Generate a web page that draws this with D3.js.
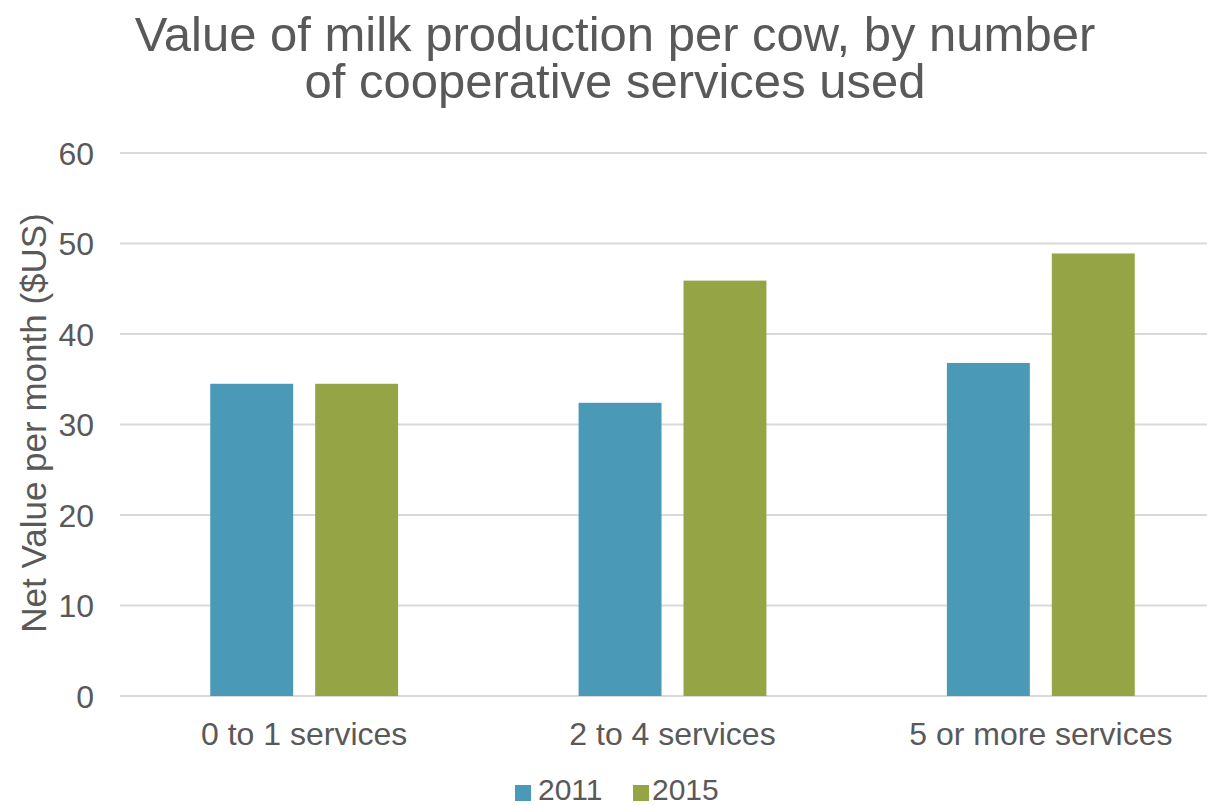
<!DOCTYPE html>
<html>
<head>
<meta charset="utf-8">
<script src="https://cdn.jsdelivr.net/npm/d3@7"></script>
<style>
  html, body { margin: 0; padding: 0; background: #ffffff; }
  svg { display: block; }
  text { font-family: "Liberation Sans", Arial, sans-serif; fill: #595959; }
</style>
</head>
<body>
<svg id="chart" width="1207" height="806"></svg>
<script>
// Chart data
const categories = ["0 to 1 services", "2 to 4 services", "5 or more services"];
const seriesNames = ["2011", "2015"];
const values2011 = [34.5, 32.4, 36.8];
const values2015 = [34.5, 45.9, 48.9];
const yTicks = [0, 10, 20, 30, 40, 50, 60];
const titleLines = ["Value of milk production per cow, by number", "of cooperative services used"];
const yAxisTitle = "Net Value per month ($US)";

const seriesValues = { "2011": values2011, "2015": values2015 };
const colors = { "2011": "#4A9AB7", "2015": "#95A546" };

const svg = d3.select("#chart");

const plot = { left: 120, right: 1225, top: 153, bottom: 696 };

const y = d3.scaleLinear().domain([0, 60]).range([plot.bottom, plot.top]);

const x0 = d3.scaleBand()
  .domain(categories)
  .range([plot.left, plot.right])
  .paddingInner(0.49)
  .paddingOuter(0.245);

const x1 = d3.scaleBand()
  .domain(seriesNames)
  .range([0, x0.bandwidth()])
  .paddingInner(0.2095)
  .paddingOuter(0);

// Title (two centred lines)
svg.append("g")
  .selectAll("text")
  .data(titleLines)
  .join("text")
  .attr("x", 615)
  .attr("y", (d, i) => 51 + i * 47)
  .attr("text-anchor", "middle")
  .style("font-size", "49px")
  .text(d => d);

// Horizontal gridlines
svg.append("g")
  .selectAll("line")
  .data(yTicks)
  .join("line")
  .attr("x1", plot.left)
  .attr("x2", plot.right)
  .attr("y1", d => y(d))
  .attr("y2", d => y(d))
  .attr("stroke", "#D9D9D9")
  .attr("stroke-width", 2);

// Y axis tick labels
const yAxis = d3.axisLeft(y).tickValues(yTicks).tickSize(0).tickPadding(0);
const yAxisG = svg.append("g")
  .attr("transform", `translate(94,0)`)
  .call(yAxis);
yAxisG.select(".domain").remove();
yAxisG.selectAll("text")
  .attr("fill", "#595959")
  .style("font-family", "'Liberation Sans', Arial, sans-serif")
  .style("font-size", "32px")
  .attr("dy", "0.35em");

// Bars
const groups = svg.append("g")
  .selectAll("g")
  .data(categories)
  .join("g")
  .attr("transform", d => `translate(${x0(d)},0)`);

groups.selectAll("rect")
  .data((cat, ci) => seriesNames.map(s => ({ series: s, value: seriesValues[s][ci] })))
  .join("rect")
  .attr("x", d => x1(d.series))
  .attr("width", x1.bandwidth())
  .attr("y", d => y(d.value))
  .attr("height", d => y(0) - y(d.value))
  .attr("fill", d => colors[d.series]);

// Category axis labels
const xAxis = d3.axisBottom(x0).tickSize(0).tickPadding(0);
const xAxisG = svg.append("g")
  .attr("transform", `translate(0,745)`)
  .call(xAxis);
xAxisG.select(".domain").remove();
xAxisG.selectAll("text")
  .attr("fill", "#595959")
  .attr("dy", 0)
  .style("font-family", "'Liberation Sans', Arial, sans-serif")
  .style("font-size", "32px");

// Y axis title
svg.append("text")
  .attr("transform", `translate(46,423) rotate(-90)`)
  .attr("text-anchor", "middle")
  .style("font-size", "35px")
  .text(yAxisTitle);

// Legend
const legendItems = [
  { name: "2011", sx: 515, tx: 538 },
  { name: "2015", sx: 633, tx: 652 }
];
const legend = svg.append("g");
legend.selectAll("rect")
  .data(legendItems)
  .join("rect")
  .attr("x", d => d.sx)
  .attr("y", 785)
  .attr("width", 16)
  .attr("height", 16)
  .attr("fill", d => colors[d.name]);
legend.selectAll("text")
  .data(legendItems)
  .join("text")
  .attr("x", d => d.tx)
  .attr("y", 800)
  .style("font-size", "30px")
  .text(d => d.name);
</script>
</body>
</html>
